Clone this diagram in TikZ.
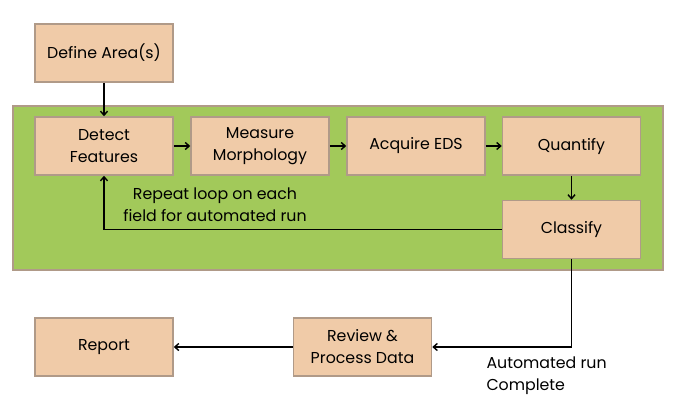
\documentclass[tikz,border=0pt]{standalone}
\usepackage{fontspec}
\setmainfont{Poppins}
\usetikzlibrary{arrows.meta}
\definecolor{boxfill}{HTML}{F0CBA8}
\definecolor{boxline}{HTML}{B09A88}
\definecolor{greenfill}{HTML}{A2C95A}
\begin{document}
\begin{tikzpicture}[x=1pt,y=-1pt,
  stepbox/.style={draw=boxline,fill=boxfill,line width=1.5pt,minimum width=138pt,minimum height=58pt,align=center,font=\fontsize{15.8}{22}\selectfont,inner sep=2pt},
  conn/.style={line width=1.4pt,-{Straight Barb[length=4pt,width=7pt]}},
  lbl/.style={font=\fontsize{15.8}{22}\selectfont,align=left}]
\useasboundingbox (0,0) rectangle (676,415);
\fill[white] (0,0) rectangle (676,415);
\node[draw=boxline,fill=greenfill,line width=1.5pt,minimum width=650pt,minimum height=164pt,inner sep=0pt] (grp) at (338,188) {};
\node[stepbox] (def) at (104,53) {Define Area(s)};
\node[stepbox] (det) at (104,146) {Detect\\Features};
\node[stepbox] (mea) at (260,146) {Measure\\Morphology};
\node[stepbox] (acq) at (416,146) {Acquire EDS};
\node[stepbox] (qua) at (571.5,146) {Quantify};
\node[stepbox] (cla) at (571.5,229.5) {Classify};
\node[stepbox] (rev) at (362.5,347) {Review \&\\Process Data};
\node[stepbox] (rep) at (104,347) {Report};
\node[lbl,align=center] (rpt) at (215,205) {Repeat loop on each\\field for automated run};
\node[lbl,anchor=north west] (arc) at (483,353) {Automated run\\Complete};
\draw[conn] (def) -- (det);
\draw[conn] (det) -- (mea);
\draw[conn] (mea) -- (acq);
\draw[conn] (acq) -- (qua);
\draw[conn] (qua) -- (cla);
\draw[conn] (cla.west) -- (cla.west -| det.south) -- (det.south);
\draw[conn] (cla.south) |- (rev.east);
\draw[conn] (rev) -- (rep);
\end{tikzpicture}
\end{document}
